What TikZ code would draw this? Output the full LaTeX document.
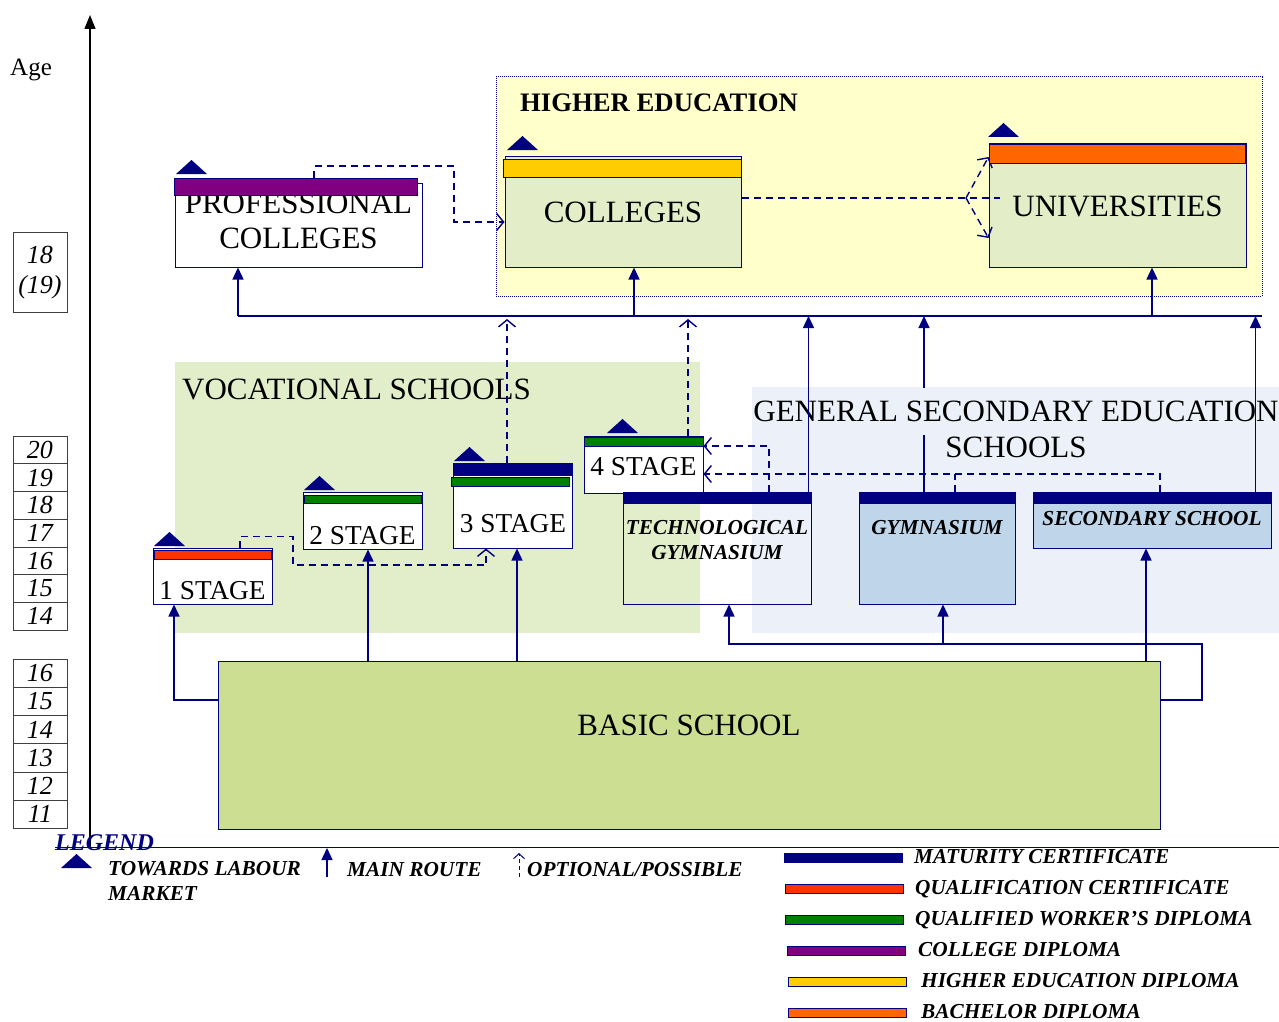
\documentclass[tikz,border=0pt]{standalone}
\usepackage{fontspec}
\setmainfont{Liberation Serif}
\usetikzlibrary{arrows.meta,positioning}

\definecolor{navy}{RGB}{0,0,128}
\definecolor{hiyellow}{RGB}{255,255,204}
\definecolor{palegreen}{RGB}{227,238,200}
\definecolor{vocgreen}{RGB}{226,237,201}
\definecolor{genblue}{RGB}{236,241,249}
\definecolor{gymblue}{RGB}{191,213,234}
\definecolor{basicgreen}{RGB}{204,222,145}
\definecolor{qualred}{RGB}{255,51,0}
\definecolor{workgreen}{RGB}{0,128,0}
\definecolor{collpurple}{RGB}{128,0,128}
\definecolor{hegold}{RGB}{255,204,0}
\definecolor{bachorange}{RGB}{255,102,0}

\newcommand{\bigfont}{\fontsize{31}{36}\selectfont}
\newcommand{\stagefont}{\fontsize{27.3}{31}\selectfont}
\newcommand{\headfont}{\fontsize{26.7}{30}\selectfont\bfseries}
\newcommand{\tagfont}{\fontsize{21.3}{25}\selectfont\bfseries\itshape}
\newcommand{\legfont}{\fontsize{24}{28}\selectfont\bfseries\itshape}
\newcommand{\agefont}{\fontsize{26}{30}\selectfont\itshape}

\tikzstyle{region}=[inner sep=0pt, outer sep=0pt]
\tikzstyle{box}=[draw=navy, line width=1pt, inner sep=0pt]
\tikzstyle{bar}=[draw=navy, line width=0.6pt]
\tikzstyle{agebox}=[draw=black!75, line width=0.6pt, minimum width=54, inner sep=0pt, font=\agefont]
\tikzstyle{lbl}=[inner sep=0pt, anchor=base]
\tikzstyle{link}=[draw=navy, line width=1.4pt]
\tikzstyle{route}=[link, -{Triangle[length=12pt,width=11pt]}]
\tikzstyle{optional}=[link, dash pattern=on 7pt off 5pt, -{Straight Barb[length=7pt,width=17pt]}]

\begin{document}
\begin{tikzpicture}[x=1pt, y=-1pt]
    \useasboundingbox (0,0) rectangle (1279,1022);

    % First we draw the coloured areas
    \node[region, fill=hiyellow, draw=navy, densely dotted, line width=1pt, minimum width=766, minimum height=219] (higher) at (879,186.5) {};
    \node[region, fill=vocgreen, minimum width=525, minimum height=271] (voc) at (437.5,497.5) {};
    \node[region, fill=genblue, minimum width=527, minimum height=246] (gen) at (1015.5,510) {};
    \node[lbl, anchor=base west, font=\headfont] (highertxt) at (520,112) {HIGHER EDUCATION};
    \node[lbl, anchor=base west, font=\bigfont] (voctxt) at (182,399) {VOCATIONAL SCHOOLS};

    % Age axis
    \coordinate (axisbot) at (90,847);
    \coordinate (axistop) at (90,15);
    \draw[line width=1.4pt, -{Triangle[length=14pt,width=11pt]}] (axisbot) -- (axistop);
    \node[lbl, anchor=base west, font=\fontsize{25}{28}\selectfont] (age) at (10,76) {Age};
    \node[agebox, minimum height=80, align=center] (agetop) at (40,272.5) {18\\(19)};
    \foreach \age [count=\i] in {20,19,18,17,16,15,14}
        \node[agebox, minimum height=27.7] (upper\i) at (40,{436+27.7*(\i-0.5)}) {\age};
    \foreach \age [count=\i] in {16,15,14,13,12,11}
        \node[agebox, minimum height=28.2] (lower\i) at (40,{659+28.2*(\i-0.5)}) {\age};

    % Then the schools
    \node[box, fill=white, minimum width=247, minimum height=84] (prof) at (298.5,225) {};
    \node[box, fill=palegreen, minimum width=236, minimum height=111] (coll) at (623,211.5) {};
    \node[box, fill=palegreen, minimum width=257, minimum height=124] (univ) at (1117.5,205) {};
    \foreach \pos/\name/\h in {{(212.5,576)/sone/56}, {(362.5,520.5)/stwo/57}, {(513,505.5)/sthree/85}, {(643.5,464.5)/sfour/57}}
        \node[box, fill=white, minimum width=119, minimum height=\h] (\name) at \pos {};
    \node[box, minimum width=188, minimum height=112] (tgym) at (717,548) {};
    \node[box, fill=gymblue, minimum width=156, minimum height=112] (gym) at (937,548) {};
    \node[box, fill=gymblue, minimum width=238, minimum height=56] (sec) at (1152,520) {};
    \node[box, fill=basicgreen, minimum width=942, minimum height=168] (basic) at (689,745) {};

    % Names of the schools
    \node[lbl, font=\bigfont] (proftxt) at (298.5,213) {PROFESSIONAL};
    \node[lbl, font=\bigfont] (proftxtb) at (298.5,248) {COLLEGES};
    \node[lbl, font=\bigfont] (colltxt) at (623,222) {COLLEGES};
    \node[lbl, font=\bigfont] (univtxt) at (1117.5,216) {UNIVERSITIES};
    \foreach \name/\y/\n in {sone/599/1, stwo/544/2, sthree/532/3, sfour/475/4}
        \node[lbl, font=\stagefont] (\name-txt) at (\name.south |- 0,\y) {\n\ STAGE};
    \node[lbl, font=\tagfont] (tgymtxt) at (717,534) {TECHNOLOGICAL};
    \node[lbl, font=\tagfont] (tgymtxtb) at (717,559) {GYMNASIUM};
    \node[lbl, font=\tagfont] (gymtxt) at (937,534) {GYMNASIUM};
    \node[lbl, font=\tagfont] (sectxt) at (1152,525) {SECONDARY SCHOOL};
    \node[lbl, font=\bigfont] (basictxt) at (689,735) {BASIC SCHOOL};

    % Main routes
    \coordinate (busL) at (238,316);
    \coordinate (busR) at (1262,316);
    \draw[link] (busL) -- (busR);
    \draw[route] (busL) -- (busL |- prof.south);
    \draw[route] ([xshift=11pt]coll.south |- busL) -- ([xshift=11pt]coll.south);
    \draw[route] ([xshift=34.5pt]univ.south |- busL) -- ([xshift=34.5pt]univ.south);
    \draw[route] ([xshift=-13pt]gym.north) -- ([xshift=-13pt]gym.north |- busL);
    \node[lbl, anchor=center, fill=genblue, minimum height=47, font=\bigfont] (gentxt) at (1016,411) {GENERAL SECONDARY EDUCATION};
    \node[lbl, font=\bigfont] (gentxtb) at (1016,457) {SCHOOLS};
    \draw[route] ([xshift=-3pt]tgym.north east) -- ([xshift=-3pt]tgym.north east |- busL);
    \draw[route] ([xshift=-16pt]sec.north east) -- ([xshift=-16pt]sec.north east |- busL);

    \coordinate (bleft) at (174,700);
    \draw[route] (basic.west |- bleft) -- (bleft) -- (bleft |- sone.south);
    \draw[route] ([xshift=5.5pt]stwo.south |- basic.north) -- ([xshift=5.5pt]stwo.south);
    \draw[route] ([xshift=4pt]sthree.south |- basic.north) -- ([xshift=4pt]sthree.south);
    \draw[route] ([xshift=-6pt]sec.south |- basic.north) -- ([xshift=-6pt]sec.south);
    \coordinate (bright) at (1202,700);
    \coordinate (bturn) at (1202,644);
    \draw[route] (basic.east |- bright) -- (bright) -- (bturn) -- ([xshift=12pt]tgym.south |- bturn) -- ([xshift=12pt]tgym.south);
    \draw[route] ([xshift=6pt]gym.south |- bturn) -- ([xshift=6pt]gym.south);

    % Optional routes
    \coordinate (pcturn) at (454,166);
    \draw[optional] ([shift={(15.5,-5)}]prof.north) |- (pcturn) |- ([shift={(0,10.5)}]coll.west);
    \coordinate (fork) at (966,198);
    \coordinate (forkend) at (1000,198);
    \draw[link, dash pattern=on 7pt off 5pt] ([shift={(0,-13.5)}]coll.east) -- (forkend);
    \draw[optional] (fork) -- ([shift={(0,-48)}]univ.west);
    \draw[optional] (fork) -- ([shift={(0,33)}]univ.west);
    \coordinate (sturn) at (293,565);
    \draw[optional] ([xshift=27.5pt]sone.north) -- ++(0,-11) -| (sturn) -| ([xshift=-27pt]sthree.south);
    \draw[optional, shorten >=3pt] ([xshift=-6pt]sthree.north) -- ([xshift=-6pt]sthree.north |- busL);
    \draw[optional, shorten >=3pt] ([xshift=44.5pt]sfour.north) -- ([xshift=44.5pt]sfour.north |- busL);
    \draw[optional] ([xshift=52pt]tgym.north) |- ([shift={(0,-18.5)}]sfour.east);
    \draw[optional] ([xshift=8pt]sec.north) |- ([shift={(0,9.5)}]sfour.east);
    \draw[link, dash pattern=on 7pt off 5pt] ([xshift=18pt]gym.north) -- ++(0,-18);

    % Diploma bars and labour market marks
    \foreach \col/\xa/\ya/\xb/\yb in {collpurple/174/178/417/195, hegold/503/159/741/177, bachorange/989/144/1245/163,
        qualred/154/550/271/559, workgreen/304/495/421/503, navy/453/464/572/475, workgreen/451/477/569/486,
        workgreen/584/437/703/446, navy/623/492/811/503, navy/859/492/1015/503, navy/1033/492/1271/503}
        \filldraw[bar, fill=\col] (\xa,\ya) rectangle (\xb,\yb);
    \foreach \x/\y in {176/174, 507/150, 988/137, 154/546, 304/490, 454/461, 607/433, 61/868}
        \fill[navy] (\x,\y) -- ++(31,0) -- ++(-15.5,-14) -- cycle;

    % Legend
    \coordinate (legL) at (55,847);
    \coordinate (legR) at (1279,847);
    \draw[navy, line width=1pt] (legL) -- (legR);
    \node[lbl, anchor=base west, text=navy, font=\legfont] (legend) at (55,850) {LEGEND};
    \node[lbl, anchor=base west, font=\tagfont] (markettxt) at (108,875) {TOWARDS LABOUR};
    \node[lbl, anchor=base west, font=\tagfont] (markettxtb) at (108,900) {MARKET};
    \coordinate (mainbot) at (327,877);
    \coordinate (maintop) at (327,848);
    \draw[route] (mainbot) -- (maintop);
    \node[lbl, anchor=base west, font=\tagfont] (maintxt) at (347,876) {MAIN ROUTE};
    \coordinate (optbot) at (519,877);
    \coordinate (opttop) at (519,853);
    \draw[link, line width=1pt, dash pattern=on 4pt off 3pt, -{Straight Barb[length=5pt,width=11pt]}] (optbot) -- (opttop);
    \node[lbl, anchor=base west, font=\tagfont] (opttxt) at (527,876) {OPTIONAL/POSSIBLE};
    \foreach \col/\xa/\y/\xt/\txt [count=\i] in {navy/784/858/914/MATURITY CERTIFICATE, qualred/785/889/915/QUALIFICATION CERTIFICATE,
        workgreen/785/920/915/QUALIFIED WORKER'S DIPLOMA, collpurple/787/951/918/COLLEGE DIPLOMA,
        hegold/788/982/921/HIGHER EDUCATION DIPLOMA, bachorange/788/1013/921/BACHELOR DIPLOMA}
    {
        \filldraw[bar, fill=\col] (\xa,\y-4.5) rectangle ++(118,9);
        \node[lbl, anchor=base west, font=\tagfont] (key\i) at (\xt,\y+5) {\txt};
    }
\end{tikzpicture}
\end{document}
